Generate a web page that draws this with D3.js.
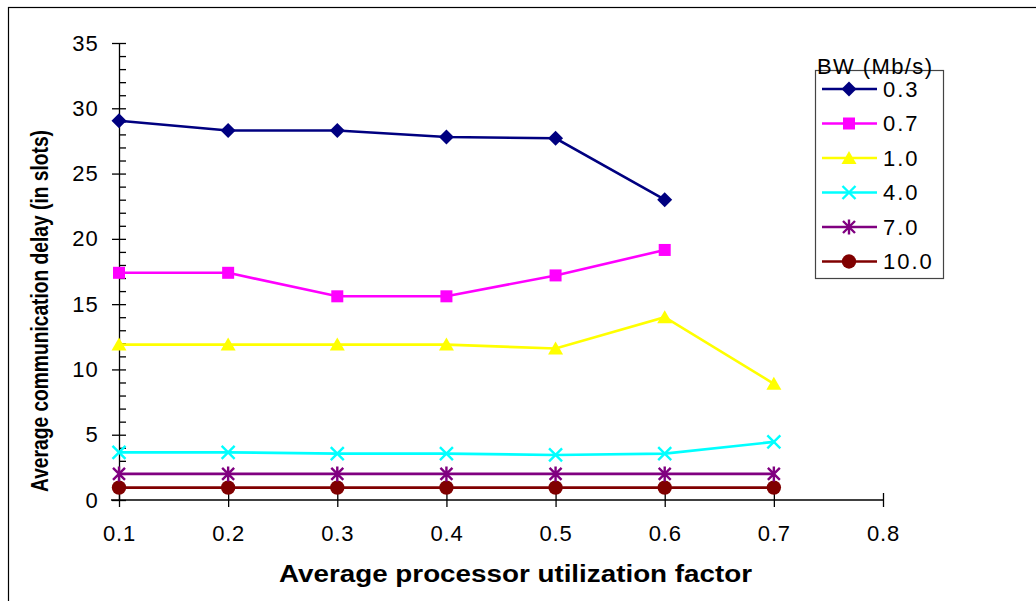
<!DOCTYPE html>
<html>
<head>
<meta charset="utf-8">
<script src="https://cdn.jsdelivr.net/npm/d3@7"></script>
<style>
  html, body { margin: 0; padding: 0; background: #fff; }
  svg { display: block; font-family: "Liberation Sans", Arial, sans-serif; }
</style>
</head>
<body>
<svg id="chart" width="1036" height="601"></svg>
<script>
// Processor utilization factor (x) and average delay per bandwidth setting
const utilization = [0.1, 0.2, 0.3, 0.4, 0.5, 0.6, 0.7];
const bw03  = [29.05, 28.3, 28.3, 27.8, 27.7, 23.0];
const bw07  = [17.4, 17.4, 15.6, 15.6, 17.2, 19.15];
const bw10  = [11.9, 11.9, 11.9, 11.9, 11.6, 14.0, 8.9];
const bw40  = [3.65, 3.65, 3.55, 3.55, 3.45, 3.55, 4.45];
const bw70  = [2.0, 2.0, 2.0, 2.0, 2.0, 2.0, 2.0];
const bw100 = [0.95, 0.95, 0.95, 0.95, 0.95, 0.95, 0.95];
const seriesNames = ["0.3", "0.7", "1.0", "4.0", "7.0", "10.0"];
const xTicks = [0.1, 0.2, 0.3, 0.4, 0.5, 0.6, 0.7, 0.8];
const yTicks = [0, 5, 10, 15, 20, 25, 30, 35];

const series = [
  { name: seriesNames[0], values: bw03,  color: "#000080", marker: "diamond" },
  { name: seriesNames[1], values: bw07,  color: "#FF00FF", marker: "square" },
  { name: seriesNames[2], values: bw10,  color: "#FFFF00", marker: "triangle" },
  { name: seriesNames[3], values: bw40,  color: "#00FFFF", marker: "cross" },
  { name: seriesNames[4], values: bw70,  color: "#800080", marker: "star" },
  { name: seriesNames[5], values: bw100, color: "#800000", marker: "circle" }
];

const svg = d3.select("#chart");

// outer frame
svg.append("rect")
  .attr("x", 8.5).attr("y", 7.5)
  .attr("width", 1040).attr("height", 620)
  .attr("fill", "none").attr("stroke", "#000").attr("stroke-width", 1.2);

const x = d3.scaleLinear().domain([0.1, 0.8]).range([119, 883]);
const y = d3.scaleLinear().domain([0, 35]).range([500, 43]);

const labelFont = 22;

// y axis: labelled majors outside, every-unit ticks inside
const yLeft = svg.append("g").attr("transform", `translate(${x(0.1)},0)`)
  .call(d3.axisLeft(y).tickValues(yTicks).tickSize(7).tickSizeOuter(0).tickPadding(13));
yLeft.select(".domain").attr("stroke", "#000").attr("stroke-width", 1.3);
yLeft.selectAll(".tick line").attr("stroke", "#000").attr("stroke-width", 1.3);
yLeft.selectAll(".tick text")
  .attr("font-size", labelFont).attr("letter-spacing", 1.2).attr("fill", "#000")
  .attr("font-family", "Liberation Sans, Arial, sans-serif");

const yRight = svg.append("g").attr("transform", `translate(${x(0.1)},0)`)
  .call(d3.axisRight(y).tickValues(d3.range(0, 36)).tickSize(7).tickSizeOuter(0).tickFormat(""));
yRight.select(".domain").remove();
yRight.selectAll(".tick line").attr("stroke", "#000").attr("stroke-width", 1.3);

// x axis: ticks cross the line, labels below
const xBottom = svg.append("g").attr("transform", `translate(0,${y(0)})`)
  .call(d3.axisBottom(x).tickValues(xTicks).tickSize(7).tickSizeOuter(0).tickPadding(18)
    .tickFormat(d3.format(".1f")));
xBottom.select(".domain").remove();
xBottom.selectAll(".tick line").attr("stroke", "#000").attr("stroke-width", 1.3);
xBottom.selectAll(".tick text")
  .attr("font-size", labelFont).attr("letter-spacing", 0.8).attr("fill", "#000")
  .attr("font-family", "Liberation Sans, Arial, sans-serif");

const xTop = svg.append("g").attr("transform", `translate(0,${y(0)})`)
  .call(d3.axisTop(x).tickValues(xTicks).tickSize(7).tickSizeOuter(0).tickFormat(""));
xTop.select(".domain").remove();
xTop.selectAll(".tick line").attr("stroke", "#000").attr("stroke-width", 1.3);

svg.append("line")
  .attr("x1", x(0.1) - 8).attr("x2", x(0.8))
  .attr("y1", y(0)).attr("y2", y(0))
  .attr("stroke", "#000").attr("stroke-width", 1.3);

// axis titles
svg.append("text")
  .attr("x", 515.5).attr("y", 582)
  .attr("text-anchor", "middle")
  .attr("font-size", 23).attr("font-weight", "bold")
  .attr("textLength", 473).attr("lengthAdjust", "spacingAndGlyphs")
  .text("Average processor utilization factor");

svg.append("text")
  .attr("transform", `translate(48,311) rotate(-90)`)
  .attr("text-anchor", "middle")
  .attr("font-size", 23).attr("font-weight", "bold")
  .attr("textLength", 362).attr("lengthAdjust", "spacingAndGlyphs")
  .text("Average communication delay (in slots)");

// marker drawing
function drawMarker(g, type, color) {
  switch (type) {
    case "diamond":
      g.append("path").attr("d", "M0,-7.5L7.5,0L0,7.5L-7.5,0Z").attr("fill", color);
      break;
    case "square":
      g.append("rect").attr("x", -6).attr("y", -6).attr("width", 12).attr("height", 12).attr("fill", color);
      break;
    case "triangle":
      g.append("path").attr("d", "M0,-7L7.5,6L-7.5,6Z").attr("fill", color);
      break;
    case "cross":
      g.append("path").attr("d", "M-6.5,-6.5L6.5,6.5M-6.5,6.5L6.5,-6.5")
        .attr("stroke", color).attr("stroke-width", 2.4).attr("fill", "none");
      break;
    case "star":
      g.append("path").attr("d", "M-6,-6L6,6M-6,6L6,-6M0,-7.5L0,7.5")
        .attr("stroke", color).attr("stroke-width", 2.4).attr("fill", "none");
      break;
    case "circle":
      g.append("circle").attr("r", 7.2).attr("fill", color);
      break;
  }
}

const line = d3.line()
  .x((d, i) => x(utilization[i]))
  .y(d => y(d));

const plot = svg.append("g");
series.slice().reverse().forEach(s => {
  plot.append("path")
    .attr("d", line(s.values))
    .attr("fill", "none")
    .attr("stroke", s.color)
    .attr("stroke-width", 2.6);
  s.values.forEach((v, i) => {
    const g = plot.append("g").attr("transform", `translate(${x(utilization[i])},${y(v)})`);
    drawMarker(g, s.marker, s.color);
  });
});

// legend
const legend = svg.append("g");
legend.append("rect")
  .attr("x", 815.5).attr("y", 70.5).attr("width", 128).attr("height", 208)
  .attr("fill", "#fff").attr("stroke", "#444").attr("stroke-width", 1.2);
legend.append("text")
  .attr("x", 817).attr("y", 73.5)
  .attr("font-size", 22).attr("letter-spacing", 1.4)
  .text("BW (Mb/s)");

series.forEach((s, i) => {
  const cy = 89 + i * 34.5;
  legend.append("line")
    .attr("x1", 822).attr("x2", 877).attr("y1", cy).attr("y2", cy)
    .attr("stroke", s.color).attr("stroke-width", 2.6);
  const g = legend.append("g").attr("transform", `translate(849,${cy})`);
  drawMarker(g, s.marker, s.color);
  legend.append("text")
    .attr("x", 883).attr("y", cy).attr("dy", "0.36em")
    .attr("font-size", labelFont).attr("letter-spacing", 2)
    .text(s.name);
});
</script>
</body>
</html>
